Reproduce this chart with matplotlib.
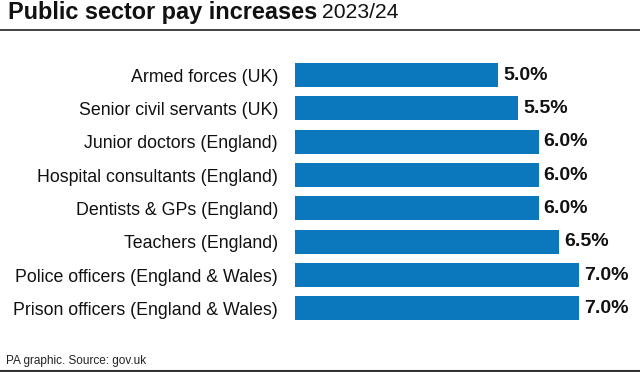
import matplotlib.pyplot as plt

# Data
groups = [
    "Armed forces (UK)",
    "Senior civil servants (UK)",
    "Junior doctors (England)",
    "Hospital consultants (England)",
    "Dentists & GPs (England)",
    "Teachers (England)",
    "Police officers (England & Wales)",
    "Prison officers (England & Wales)",
]
pay_rise = [5.0, 5.5, 6.0, 6.0, 6.0, 6.5, 7.0, 7.0]

BAR = "#0b78be"
FONT = "Liberation Sans"

fig = plt.figure(figsize=(6.4, 3.72), dpi=100)
ax = fig.add_axes([295 / 640, 1 - 325 / 372, 325 / 640, (325 - 58.5) / 372])

ypos = list(range(len(groups)))
ax.barh(ypos, pay_rise, height=0.72, color=BAR)
ax.set_xlim(0, 8)
ax.set_ylim(len(groups) - 0.5, -0.5)

# Value labels
for y, v in zip(ypos, pay_rise):
    ax.text(v + 0.12, y, f"{v:.1f}%", va="center", ha="left",
            fontsize=14, fontweight="bold", family=FONT, color="#111111")

ax.set_yticks(ypos)
ax.set_yticklabels(groups, fontsize=12.8, family=FONT, color="#111111")
ax.tick_params(axis="y", length=0, pad=12.3)
ax.set_xticks([])
for s in ax.spines.values():
    s.set_visible(False)

# Title
t = fig.text(8 / 640, 1 - 12.5 / 372, "Public sector pay increases", fontsize=16.9,
             fontweight="bold", family=FONT, va="center", ha="left", color="#111111")
fig.canvas.draw()
bb = t.get_window_extent()
fig.text(bb.x1 / 640 + 5 / 640, 1 - 12.5 / 372, "2023/24", fontsize=15.2,
         family=FONT, va="center", ha="left", color="#111111")

# Rules
fig.add_artist(plt.Line2D([0, 1], [1 - 29.5 / 372] * 2, color="#333333", lw=1.3))
fig.add_artist(plt.Line2D([0, 1], [1 - 370.5 / 372] * 2, color="#333333", lw=1.5))

# Footer
fig.text(6 / 640, 1 - 361 / 372, "PA graphic. Source: gov.uk", fontsize=8.5,
         family=FONT, va="center", ha="left", color="#222222")

fig.savefig("out.png", dpi=100)
